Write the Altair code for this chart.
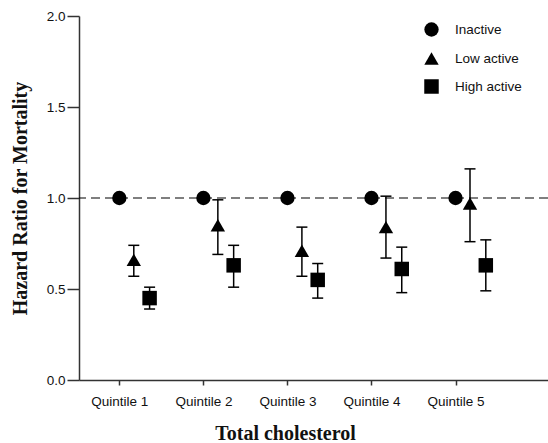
import altair as alt
import pandas as pd

quintiles = ["Quintile 1", "Quintile 2", "Quintile 3", "Quintile 4", "Quintile 5"]
groups = ["Inactive", "Low active", "High active"]

inactive_hr = [1.0, 1.0, 1.0, 1.0, 1.0]
low_hr = [0.66, 0.85, 0.71, 0.84, 0.97]
low_lo = [0.57, 0.69, 0.57, 0.67, 0.76]
low_hi = [0.74, 0.99, 0.84, 1.01, 1.16]
high_hr = [0.45, 0.63, 0.55, 0.61, 0.63]
high_lo = [0.39, 0.51, 0.45, 0.48, 0.49]
high_hi = [0.51, 0.74, 0.64, 0.73, 0.77]

offsets = {"Inactive": 0.0, "Low active": 0.172, "High active": 0.36}

rows = []
for i, q in enumerate(quintiles):
    rows.append(dict(q=q, pos=i + 1 + offsets["Inactive"], group="Inactive",
                     hr=inactive_hr[i], lo=None, hi=None))
    rows.append(dict(q=q, pos=i + 1 + offsets["Low active"], group="Low active",
                     hr=low_hr[i], lo=low_lo[i], hi=low_hi[i]))
    rows.append(dict(q=q, pos=i + 1 + offsets["High active"], group="High active",
                     hr=high_hr[i], lo=high_lo[i], hi=high_hi[i]))
df = pd.DataFrame(rows)
err = df.dropna(subset=["lo"])

xscale = alt.Scale(domain=[0.52, 6.10], nice=False, zero=False)
yscale = alt.Scale(domain=[0, 2.0], nice=False)

label_expr = "datum.value >= 1 && datum.value <= 5 ? ['Quintile 1','Quintile 2','Quintile 3','Quintile 4','Quintile 5'][datum.value - 1] : ''"

base = alt.Chart(df)

ref = alt.Chart(pd.DataFrame({"y": [1.0]})).mark_rule(
    color="black", strokeWidth=1.2, strokeDash=[9, 5]
).encode(
    y=alt.Y("y:Q", scale=yscale),
)

vbar = alt.Chart(err).mark_rule(color="black", strokeWidth=1.5).encode(
    x=alt.X("pos:Q", scale=xscale),
    y=alt.Y("lo:Q", scale=yscale),
    y2="hi:Q",
)
cap_hi = alt.Chart(err).mark_rule(color="black", strokeWidth=1.5, xOffset=-5.5, x2Offset=5.5).encode(
    x=alt.X("pos:Q", scale=xscale),
    x2="pos:Q",
    y=alt.Y("hi:Q", scale=yscale),
)
cap_lo = alt.Chart(err).mark_rule(color="black", strokeWidth=1.5, xOffset=-5.5, x2Offset=5.5).encode(
    x=alt.X("pos:Q", scale=xscale),
    x2="pos:Q",
    y=alt.Y("lo:Q", scale=yscale),
)

points = base.mark_point(filled=True, opacity=1, color="black", strokeWidth=0).encode(
    x=alt.X("pos:Q", scale=xscale,
            axis=alt.Axis(values=[1, 2, 3, 4, 5], labelExpr=label_expr,
                          title="Total cholesterol", tickSize=5, labelPadding=9,
                          titleX=206, titleY=59, titleBaseline="alphabetic",
                          titleAnchor="middle", titleAlign="center")),
    y=alt.Y("hr:Q", scale=yscale,
            axis=alt.Axis(values=[0, 0.5, 1.0, 1.5, 2.0], format=".1f",
                          title="Hazard Ratio for Mortality", tickSize=12,
                          labelPadding=2, titlePadding=16)),
    shape=alt.Shape("group:N",
                    scale=alt.Scale(domain=groups, range=["circle", "triangle-up", "square"]),
                    legend=alt.Legend(title=None, orient="none", legendX=345, legendY=6,
                                      labelFont="Liberation Sans", labelFontSize=13.5,
                                      labelColor="#111", labelOffset=16, rowPadding=14,
                                      padding=0, symbolFillColor="black",
                                      symbolStrokeWidth=0)),
    size=alt.Size("group:N",
                  scale=alt.Scale(domain=groups, range=[205, 210, 152])),
)

chart = alt.layer(ref, vbar, cap_hi, cap_lo, points).properties(
    width=469, height=364,
    autosize=alt.AutoSizeParams(type="none"),
    padding={"left": 79, "top": 16, "right": 0, "bottom": 63},
    background="white",
).configure_view(stroke=None).configure_axis(
    grid=False,
    domainColor="#333", domainWidth=1.5,
    tickColor="#333", tickWidth=1.5,
    labelFont="Liberation Sans", labelFontSize=13.5, labelColor="#111",
    titleFont="Liberation Serif", titleFontSize=20, titleFontWeight="bold", titleColor="#111",
)

chart.save("out.html", embed_options={"renderer": "svg", "actions": False})
